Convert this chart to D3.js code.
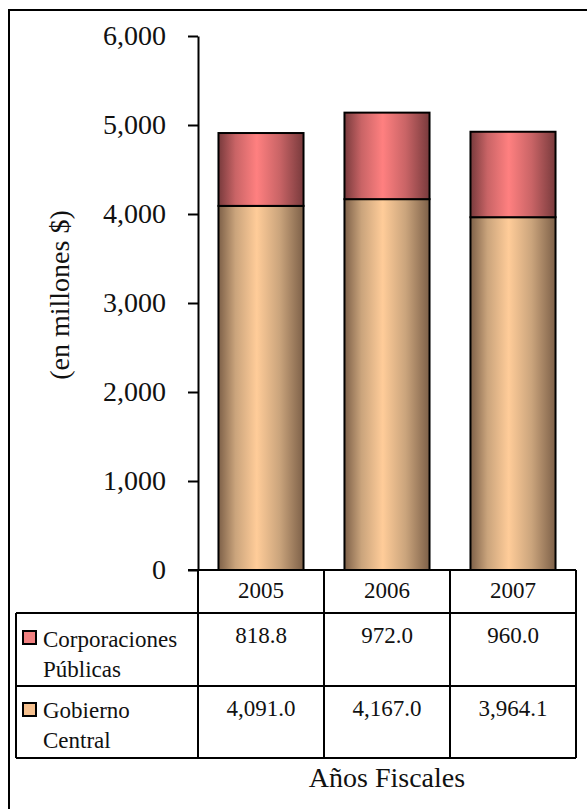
<!DOCTYPE html>
<html>
<head>
<meta charset="utf-8">
<script src="https://cdn.jsdelivr.net/npm/d3@7"></script>
<style>
  html, body { margin: 0; padding: 0; background: #fff; }
  svg { display: block; }
  text { font-family: 'Liberation Serif', 'DejaVu Serif', serif; }
</style>
</head>
<body>
<svg id="chart" width="587" height="809"></svg>
<script>
// ---- data ----
const years = ["2005", "2006", "2007"];
const corporaciones = [818.8, 972.0, 960.0];
const gobierno = [4091.0, 4167.0, 3964.1];
const seriesNames = [["Corporaciones", "Públicas"], ["Gobierno", "Central"]];
const yTicks = [0, 1000, 2000, 3000, 4000, 5000, 6000];
const corpLabels = ["818.8", "972.0", "960.0"];
const gobLabels = ["4,091.0", "4,167.0", "3,964.1"];

const FONT = "Liberation Serif, serif";
const svg = d3.select("#chart");

// gradients
const defs = svg.append("defs");
function grad(id, dark, mid, light) {
  const g = defs.append("linearGradient").attr("id", id)
    .attr("x1", "0%").attr("x2", "100%").attr("y1", "0%").attr("y2", "0%");
  [[0, dark], [0.2, mid], [0.45, light], [0.72, mid], [1, dark]].forEach(([o, c]) =>
    g.append("stop").attr("offset", o).attr("stop-color", c));
}
grad("gTan", "#7d6048", "#caa47c", "#ffcc99");
grad("gRed", "#783a3c", "#c96466", "#ff8080");

// outer border (clipped at right and bottom)
svg.append("rect").attr("x", 9).attr("y", 10).attr("width", 620).attr("height", 830)
  .attr("fill", "none").attr("stroke", "#000").attr("stroke-width", 2);

// scales
const x = d3.scaleBand().domain(years).range([198, 576]).paddingInner(0.325).paddingOuter(0.1625);
const y = d3.scaleLinear().domain([0, 6000]).range([570, 36]);

// bars
const stack = years.map((yr, i) => ({ yr, g: gobierno[i], c: corporaciones[i] }));
const bars = svg.append("g");
bars.selectAll("rect.gob").data(stack).join("rect")
  .attr("x", d => x(d.yr)).attr("width", x.bandwidth())
  .attr("y", d => y(d.g)).attr("height", d => y(0) - y(d.g))
  .attr("fill", "url(#gTan)").attr("stroke", "#000").attr("stroke-width", 2);
bars.selectAll("rect.corp").data(stack).join("rect")
  .attr("x", d => x(d.yr)).attr("width", x.bandwidth())
  .attr("y", d => y(d.g + d.c)).attr("height", d => y(d.g) - y(d.g + d.c))
  .attr("fill", "url(#gRed)").attr("stroke", "#000").attr("stroke-width", 2);

// y axis
const yAxis = d3.axisLeft(y).tickValues(yTicks).tickFormat(d3.format(",")).tickSize(10).tickSizeOuter(0).tickPadding(22);
const ag = svg.append("g").attr("transform", "translate(198,0)").call(yAxis)
  .attr("font-family", FONT);
ag.selectAll("path, line").attr("stroke", "#000").attr("stroke-width", 2);
ag.selectAll("text").attr("font-size", 28).attr("font-family", FONT).attr("fill", "#111");

// y label
svg.append("text").attr("transform", "translate(69,295) rotate(-90)")
  .attr("text-anchor", "middle").attr("font-size", 28).attr("font-family", FONT).attr("fill", "#111")
  .text("(en millones $)");

// data table
const t = svg.append("g").attr("stroke", "#000").attr("stroke-width", 2);
const xEdges = [198].concat(years.map(yr => x(yr) + x.bandwidth() + x.step() * x.paddingInner() / 2));
const rowY = [570, 613, 686, 758];
t.append("line").attr("x1", 188).attr("x2", xEdges[3]).attr("y1", rowY[0]).attr("y2", rowY[0]);
[1, 2, 3].forEach(k => t.append("line").attr("x1", 16).attr("x2", xEdges[3]).attr("y1", rowY[k]).attr("y2", rowY[k]));
t.append("line").attr("x1", 16).attr("x2", 16).attr("y1", rowY[1]).attr("y2", rowY[3]);
xEdges.forEach(xe => t.append("line").attr("x1", xe).attr("x2", xe).attr("y1", rowY[0]).attr("y2", rowY[3]));

const cx = yr => x(yr) + x.bandwidth() / 2;
const tt = svg.append("g").attr("font-size", 23).attr("font-family", FONT).attr("fill", "#111");
tt.selectAll("text.yr").data(years).join("text")
  .attr("x", cx).attr("y", 598).attr("text-anchor", "middle").text(d => d);
tt.selectAll("text.cv").data(years).join("text")
  .attr("x", cx).attr("y", 643).attr("text-anchor", "middle").text((d, i) => corpLabels[i]);
tt.selectAll("text.gv").data(years).join("text")
  .attr("x", cx).attr("y", 716).attr("text-anchor", "middle").text((d, i) => gobLabels[i]);

// legend keys + names
const keySolid = ["#f08080", "#f5c08e"];
const keyY = [631, 703];
const nameY = [647, 718];
seriesNames.forEach((nm, k) => {
  svg.append("rect").attr("x", 23).attr("y", keyY[k]).attr("width", 13).attr("height", 13)
    .attr("fill", keySolid[k]).attr("stroke", "#000").attr("stroke-width", 2);
  tt.append("text").attr("x", 43).attr("y", nameY[k]).text(nm[0]);
  tt.append("text").attr("x", 43).attr("y", nameY[k] + 30).text(nm[1]);
});

// x title
svg.append("text").attr("x", (198 + xEdges[3]) / 2).attr("y", 787).attr("text-anchor", "middle")
  .attr("font-size", 28).attr("font-family", FONT).attr("fill", "#111").text("Años Fiscales");
</script>
</body>
</html>
